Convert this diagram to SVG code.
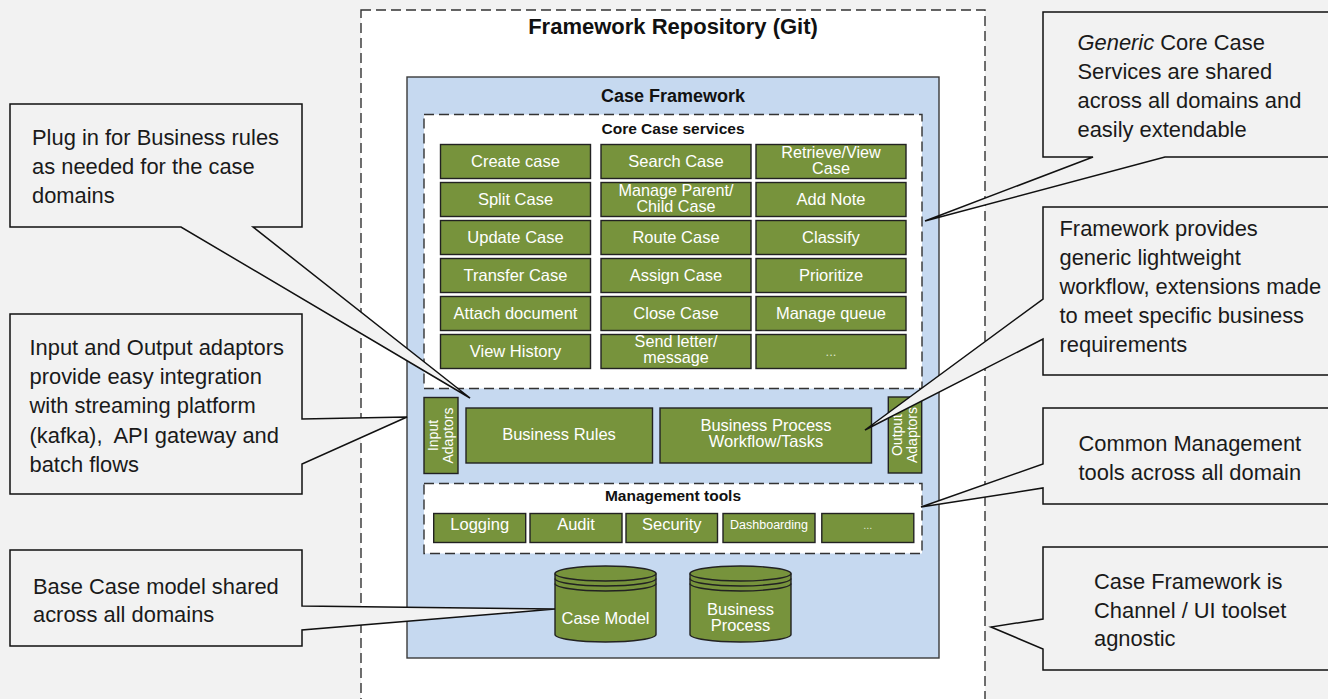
<svg xmlns="http://www.w3.org/2000/svg" width="1328" height="699" viewBox="0 0 1328 699">
<style>
.t{font-family:"Liberation Sans",Arial,sans-serif}
.b{font-weight:bold;fill:#111;text-anchor:middle}
.dash{fill:#fff;stroke:#333;stroke-width:1.4;stroke-dasharray:10,5}
.g{fill:#77933c;stroke:#222;stroke-width:1.4}
.gt{font-family:"Liberation Sans",Arial,sans-serif;font-size:16.5px;fill:#fff;text-anchor:middle}
.g2{font-size:16.2px}
.co{fill:#f2f2f2;stroke:#111;stroke-width:1.5;stroke-linejoin:miter}
.ct{font-family:"Liberation Sans",Arial,sans-serif;font-size:21.9px;fill:#1a1a1a}
.cyl{fill:#77933c;stroke:#222;stroke-width:1.4}
.cl{fill:none;stroke:#222;stroke-width:1.4}
</style>
<rect x="0" y="0" width="1328" height="699" fill="#f2f2f2"/>

<g id="repository">
<rect x="361" y="10" width="624" height="700" class="dash" stroke="#222"/>
<text x="673" y="33.5" class="t b" font-size="22">Framework Repository (Git)</text>
</g>

<g id="case-framework">
<rect x="407" y="77" width="532" height="581" fill="#c6d9f0" stroke="#3a3a3a" stroke-width="1.4"/>
<text x="673" y="101.5" class="t b" font-size="18">Case Framework</text>
</g>

<g id="core-case-services">
<rect x="424" y="114.5" width="498" height="274" class="dash"/>
<text x="673" y="134" class="t b" font-size="15.5">Core Case services</text>
</g>

<g id="svc-create"><rect x="440.5" y="144.5" width="150" height="34" class="g"/><text x="515.5" y="166.5" class="gt">Create case</text></g>
<g id="svc-search"><rect x="601" y="144.5" width="150" height="34" class="g"/><text x="676" y="166.5" class="gt">Search Case</text></g>
<g id="svc-retrieve"><rect x="756" y="144.5" width="150" height="34" class="g"/><text x="831" y="157.5" class="gt g2">Retrieve/View</text><text x="831" y="173.5" class="gt g2">Case</text></g>

<g id="svc-split"><rect x="440.5" y="182.5" width="150" height="34" class="g"/><text x="515.5" y="204.5" class="gt">Split Case</text></g>
<g id="svc-parent"><rect x="601" y="182.5" width="150" height="34" class="g"/><text x="676" y="195.5" class="gt g2">Manage Parent/</text><text x="676" y="211.5" class="gt g2">Child Case</text></g>
<g id="svc-note"><rect x="756" y="182.5" width="150" height="34" class="g"/><text x="831" y="204.5" class="gt">Add Note</text></g>

<g id="svc-update"><rect x="440.5" y="220.5" width="150" height="34" class="g"/><text x="515.5" y="242.5" class="gt">Update Case</text></g>
<g id="svc-route"><rect x="601" y="220.5" width="150" height="34" class="g"/><text x="676" y="242.5" class="gt">Route Case</text></g>
<g id="svc-classify"><rect x="756" y="220.5" width="150" height="34" class="g"/><text x="831" y="242.5" class="gt">Classify</text></g>

<g id="svc-transfer"><rect x="440.5" y="258.5" width="150" height="34" class="g"/><text x="515.5" y="280.5" class="gt">Transfer Case</text></g>
<g id="svc-assign"><rect x="601" y="258.5" width="150" height="34" class="g"/><text x="676" y="280.5" class="gt">Assign Case</text></g>
<g id="svc-prioritize"><rect x="756" y="258.5" width="150" height="34" class="g"/><text x="831" y="280.5" class="gt">Prioritize</text></g>

<g id="svc-attach"><rect x="440.5" y="296.5" width="150" height="34" class="g"/><text x="515.5" y="318.5" class="gt">Attach document</text></g>
<g id="svc-close"><rect x="601" y="296.5" width="150" height="34" class="g"/><text x="676" y="318.5" class="gt">Close Case</text></g>
<g id="svc-queue"><rect x="756" y="296.5" width="150" height="34" class="g"/><text x="831" y="318.5" class="gt">Manage queue</text></g>

<g id="svc-history"><rect x="440.5" y="334.5" width="150" height="34" class="g"/><text x="515.5" y="356.5" class="gt">View History</text></g>
<g id="svc-letter"><rect x="601" y="334.5" width="150" height="34" class="g"/><text x="676" y="347" class="gt g2">Send letter/</text><text x="676" y="363" class="gt g2">message</text></g>
<g id="svc-more"><rect x="756" y="334.5" width="150" height="34" class="g"/><text x="831" y="356" class="gt" style="font-size:13px;fill:#dde5cc">...</text></g>

<g id="input-adaptors"><rect x="424" y="397.5" width="34" height="76" class="g"/>
<text transform="translate(438,435.5) rotate(-90)" class="gt" style="font-size:14px">Input</text>
<text transform="translate(453,435.5) rotate(-90)" class="gt" style="font-size:14px">Adaptors</text></g>

<g id="business-rules"><rect x="466" y="408" width="186.5" height="55" class="g"/><text x="559" y="439.5" class="gt">Business Rules</text></g>
<g id="business-process"><rect x="660" y="408" width="211.5" height="55" class="g"/><text x="766" y="431" class="gt">Business Process</text><text x="766" y="447" class="gt">Workflow/Tasks</text></g>

<g id="output-adaptors"><rect x="888.3" y="397" width="33.4" height="76" class="g"/>
<text transform="translate(902,435) rotate(-90)" class="gt" style="font-size:14px">Output</text>
<text transform="translate(917,435) rotate(-90)" class="gt" style="font-size:14px">Adaptors</text></g>

<g id="management-tools">
<rect x="424" y="483.5" width="498" height="70" class="dash"/>
<text x="673" y="501" class="t b" font-size="15.5">Management tools</text>
</g>
<g id="mt-logging"><rect x="433.7" y="513.5" width="92" height="29" class="g"/><text x="479.7" y="529.5" class="gt">Logging</text></g>
<g id="mt-audit"><rect x="530" y="513.5" width="92" height="29" class="g"/><text x="576" y="529.5" class="gt">Audit</text></g>
<g id="mt-security"><rect x="626" y="513.5" width="91.5" height="29" class="g"/><text x="671.8" y="529.5" class="gt">Security</text></g>
<g id="mt-dashboarding"><rect x="723" y="513.5" width="92" height="29" class="g"/><text x="769" y="529" class="gt" style="font-size:12.5px">Dashboarding</text></g>
<g id="mt-more"><rect x="821.8" y="513.5" width="92" height="29" class="g"/><text x="867.8" y="529" class="gt" style="font-size:11px;fill:#dde5cc">...</text></g>

<g id="case-model">
<path class="cyl" d="M555,573.5 A50.5,7.5 0 0 1 656,573.5 V634.5 A50.5,7.5 0 0 1 555,634.5 Z"/>
<path class="cl" d="M555,573.5 A50.5,7.5 0 0 0 656,573.5 M555,578.5 A50.5,7.5 0 0 0 656,578.5 M555,583.5 A50.5,7.5 0 0 0 656,583.5"/>
<text x="605.5" y="623.5" class="gt">Case Model</text>
</g>
<g id="business-process-store">
<path class="cyl" d="M690,573.5 A50.5,7.5 0 0 1 791,573.5 V634.5 A50.5,7.5 0 0 1 690,634.5 Z"/>
<path class="cl" d="M690,573.5 A50.5,7.5 0 0 0 791,573.5 M690,578.5 A50.5,7.5 0 0 0 791,578.5 M690,583.5 A50.5,7.5 0 0 0 791,583.5"/>
<text x="740.5" y="615" class="gt">Business</text>
<text x="740.5" y="631" class="gt">Process</text>
</g>

<g id="connectors">
<g id="callout-business-rules">
<path class="co" d="M10,104 H302 V227 H253 L470,398 L181,227 H10 Z"/>
<text class="ct" x="32" y="145">Plug in for Business rules</text>
<text class="ct" x="32" y="174">as needed for the case</text>
<text class="ct" x="32" y="203">domains</text>
</g>
<g id="callout-adaptors">
<path class="co" d="M10,314 H302 V419 L407,417 L302,464 V494 H10 Z"/>
<text class="ct" x="29.5" y="355">Input and Output adaptors</text>
<text class="ct" x="29.5" y="384">provide easy integration</text>
<text class="ct" x="29.5" y="413">with streaming platform</text>
<text class="ct" x="29.5" y="442.5" xml:space="preserve">(kafka),  API gateway and</text>
<text class="ct" x="29.5" y="471.5">batch flows</text>
</g>
<g id="callout-case-model">
<path class="co" d="M10,550 H302 V606 L555,609 L302,630 V646 H10 Z"/>
<text class="ct" x="33" y="593.5">Base Case model shared</text>
<text class="ct" x="33" y="622">across all domains</text>
</g>
<g id="callout-core-services">
<path class="co" d="M1043,12 H1332 V157 H1165 L925,221 L1093,157 H1043 Z"/>
<text class="ct" x="1077.5" y="50"><tspan font-style="italic">Generic</tspan> Core Case</text>
<text class="ct" x="1077.5" y="79">Services are shared</text>
<text class="ct" x="1077.5" y="108">across all domains and</text>
<text class="ct" x="1077.5" y="137">easily extendable</text>
</g>
<g id="callout-workflow">
<path class="co" d="M1043,207 H1332 V375 H1043 V339 L865,430 L1043,299 Z"/>
<text class="ct" x="1059.5" y="236">Framework provides</text>
<text class="ct" x="1059.5" y="265">generic lightweight</text>
<text class="ct" x="1059.5" y="293.5">workflow, extensions made</text>
<text class="ct" x="1059.5" y="322.5">to meet specific business</text>
<text class="ct" x="1059.5" y="351.5">requirements</text>
</g>
<g id="callout-management">
<path class="co" d="M1043,408 H1332 V504 H1043 V488 L921,507 L1043,464 Z"/>
<text class="ct" x="1078.5" y="450.5">Common Management</text>
<text class="ct" x="1078.5" y="479.5">tools across all domain</text>
</g>
<g id="callout-agnostic">
<path class="co" d="M1043,547 H1332 V670 H1043 V649 L991,627 L1043,619 Z"/>
<text class="ct" x="1094" y="589">Case Framework is</text>
<text class="ct" x="1094" y="617.5">Channel / UI toolset</text>
<text class="ct" x="1094" y="646">agnostic</text>
</g>
</g>
</svg>
